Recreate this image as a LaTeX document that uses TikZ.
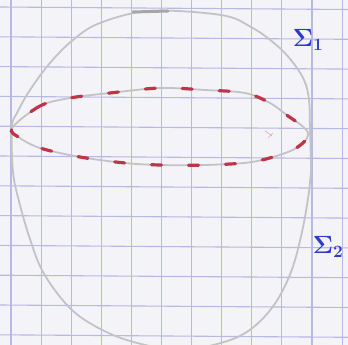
\documentclass[tikz,border=0pt]{standalone}
\usetikzlibrary{calc}
\definecolor{paper}{RGB}{244,244,248}
\definecolor{gridc}{RGB}{184,184,228}
\definecolor{pencil}{RGB}{195,195,197}
\definecolor{redink}{RGB}{192,52,72}
\definecolor{blueink}{RGB}{45,60,205}
\definecolor{pinkmark}{RGB}{230,170,190}
\tikzset{
  pencilline/.style={draw=pencil, line width=1.8pt, line join=round},
  redline/.style={draw=redink, line width=3.2pt, line cap=round, dash pattern=on 10pt off 27pt, dash phase=4pt},
  gridline/.style={draw=gridc, line width=1.1pt},
  sigmalabel/.style={text=blueink, font=\fontsize{24}{26}\selectfont, inner sep=0pt}
}
\begin{document}
\begin{tikzpicture}[x=1pt,y=-1pt]
\useasboundingbox (0,0) rectangle (348,345);
\clip (0,0) rectangle (348,345);
\fill[paper] (0,0) rectangle (348,345);
% grid
\foreach \k in {0,...,11} {
  \draw[gridline] ({11+30.1*\k},0) -- ({11+30.1*\k},345);
  \draw[gridline] (0,{7+29.8*\k}) -- (348,{9.5+29.8*\k});
}
% outer pencil curve
\draw[pencilline] plot[smooth cycle, tension=0.6] coordinates {
  (150,11) (221,15) (251,27) (274,43) (291,60) (304,80) (309,100) (310,130)
  (311,172) (309,192) (302,232) (291,272) (274,305) (251,329) (224,342)
  (180,350) (130,341) (93,325) (67,305) (43,272) (30,239) (20,205) (13,172)
  (12,127) (17,113) (30,90) (50,63) (73,40) (100,23)};
\draw[draw=pencil!85!black, line width=3pt, line cap=round] (133,12) -- (168,11);
% inner loop: pencil, then red dashes
\def\innerloop{plot[smooth cycle, tension=0.55] coordinates {
  (12,128) (40,106) (70,98) (110,93) (160,88) (205,90) (245,93) (270,103)
  (288,116) (301,125) (308,133) (304,142) (288,152) (252,162) (205,165)
  (160,165) (125,163) (80,157) (40,148) (20,138)}}
\draw[pencilline] \innerloop;
\draw[redline] \innerloop;
% faint mark
\draw[pinkmark, line width=0.7pt] (265,131) -- (272,136) (268,138) -- (273,133);
% labels
\node[sigmalabel] (s1) at (308,40) {$\mathbf{\Sigma}_{\mathbf{1}}$};
\node[sigmalabel] (s2) at (328,247) {$\mathbf{\Sigma}_{\mathbf{2}}$};
\end{tikzpicture}
\end{document}
